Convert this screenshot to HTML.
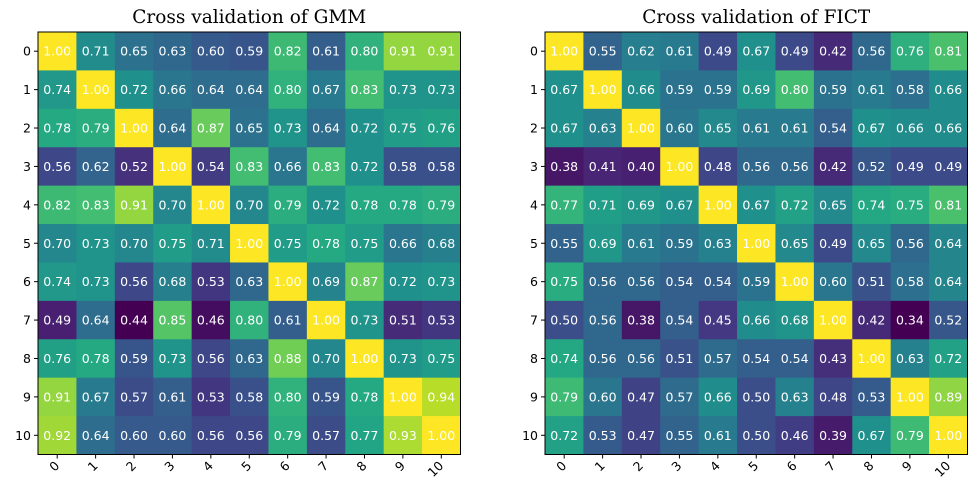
<!DOCTYPE html>
<html><head><meta charset="utf-8"><style>
body{margin:0;background:#fff;}
svg text{font-family:"DejaVu Sans","Liberation Sans",sans-serif;}
svg text.title{font-family:"DejaVu Serif","Liberation Serif",serif;}
</style></head><body>
<svg id="chart" width="977" height="497" viewBox="0 0 977 497" xmlns="http://www.w3.org/2000/svg"></svg>
<script>
const labels = ["0","1","2","3","4","5","6","7","8","9","10"];
const gmmValues = [
[1.00,0.71,0.65,0.63,0.60,0.59,0.82,0.61,0.80,0.91,0.91],
[0.74,1.00,0.72,0.66,0.64,0.64,0.80,0.67,0.83,0.73,0.73],
[0.78,0.79,1.00,0.64,0.87,0.65,0.73,0.64,0.72,0.75,0.76],
[0.56,0.62,0.52,1.00,0.54,0.83,0.66,0.83,0.72,0.58,0.58],
[0.82,0.83,0.91,0.70,1.00,0.70,0.79,0.72,0.78,0.78,0.79],
[0.70,0.73,0.70,0.75,0.71,1.00,0.75,0.78,0.75,0.66,0.68],
[0.74,0.73,0.56,0.68,0.53,0.63,1.00,0.69,0.87,0.72,0.73],
[0.49,0.64,0.44,0.85,0.46,0.80,0.61,1.00,0.73,0.51,0.53],
[0.76,0.78,0.59,0.73,0.56,0.63,0.88,0.70,1.00,0.73,0.75],
[0.91,0.67,0.57,0.61,0.53,0.58,0.80,0.59,0.78,1.00,0.94],
[0.92,0.64,0.60,0.60,0.56,0.56,0.79,0.57,0.77,0.93,1.00]];
const fictValues = [
[1.00,0.55,0.62,0.61,0.49,0.67,0.49,0.42,0.56,0.76,0.81],
[0.67,1.00,0.66,0.59,0.59,0.69,0.80,0.59,0.61,0.58,0.66],
[0.67,0.63,1.00,0.60,0.65,0.61,0.61,0.54,0.67,0.66,0.66],
[0.38,0.41,0.40,1.00,0.48,0.56,0.56,0.42,0.52,0.49,0.49],
[0.77,0.71,0.69,0.67,1.00,0.67,0.72,0.65,0.74,0.75,0.81],
[0.55,0.69,0.61,0.59,0.63,1.00,0.65,0.49,0.65,0.56,0.64],
[0.75,0.56,0.56,0.54,0.54,0.59,1.00,0.60,0.51,0.58,0.64],
[0.50,0.56,0.38,0.54,0.45,0.66,0.68,1.00,0.42,0.34,0.52],
[0.74,0.56,0.56,0.51,0.57,0.54,0.54,0.43,1.00,0.63,0.72],
[0.79,0.60,0.47,0.57,0.66,0.50,0.63,0.48,0.53,1.00,0.89],
[0.72,0.53,0.47,0.55,0.61,0.50,0.46,0.39,0.67,0.79,1.00]];
const titles = ["Cross validation of GMM","Cross validation of FICT"];

const vir=[[68,1,84],[72,35,116],[64,67,135],[52,94,141],[41,120,142],[32,144,140],[34,167,132],[68,190,112],[121,209,81],[189,222,38],[253,231,37]];
function viridis(t){t=Math.max(0,Math.min(1,t));const p=t*10,i=Math.min(9,Math.floor(p)),f=p-i;
const a=vir[i],b=vir[i+1];return `rgb(${a.map((v,k)=>Math.round(v+(b[k]-v)*f)).join(',')})`;}
const NS="http://www.w3.org/2000/svg";
const svg=document.getElementById('chart');
function mk(tag,attrs,parent){const e=document.createElementNS(NS,tag);for(const k in attrs)e.setAttribute(k,attrs[k]);parent.appendChild(e);return e;}
const panels=[{x0:38,y0:32,data:gmmValues},{x0:545,y0:32,data:fictValues}];
const size=422.5, n=labels.length, cs=size/n;
panels.forEach((p,pi)=>{
  const g=mk('g',{},svg);
  
  
  const flat=p.data.flat(),mn=Math.min(...flat),mx=Math.max(...flat);
  const xs=j=>p.x0+j*cs, ys=i=>p.y0+i*cs;
  p.data.forEach((row,i)=>row.forEach((v,j)=>{
    const r=mk('rect',{x:xs(j),y:ys(i),width:cs+0.5,height:cs+0.5,fill:viridis((v-mn)/(mx-mn))},g);
    
    
    const t=mk('text',{x:xs(j)+cs/2,y:ys(i)+cs/2+4.5,'text-anchor':'middle','font-size':'12.5',fill:'#fff'},g);
    t.textContent=v.toFixed(2);
    
    
  }));
  mk('rect',{x:p.x0,y:p.y0,width:size,height:size,fill:'none',stroke:'#000','stroke-width':1},g);
  labels.forEach((l,k)=>{
    const y=ys(k)+cs/2;
    mk('line',{x1:p.x0-4,x2:p.x0,y1:y,y2:y,stroke:'#000'},g);
    const t=mk('text',{x:p.x0-7,y:y+4.5,'text-anchor':'end','font-size':'12.5',fill:'#000'},g);
    t.textContent=l;
    
    
    const x=xs(k)+cs/2, by=p.y0+size;
    mk('line',{x1:x,x2:x,y1:by,y2:by+4,stroke:'#000'},g);
    const tx=mk('text',{x:x+3,y:by+12,'text-anchor':'end','font-size':'12.5',fill:'#000',transform:`rotate(-45 ${x+3} ${by+12})`},g);
    tx.textContent=l;
    
    
  });
  const tt=mk('text',{x:p.x0+size/2,y:23,'text-anchor':'middle','font-size':'18.5',fill:'#000','class':'title',style:'font-family:"DejaVu Serif","Liberation Serif",serif'},g);
  tt.textContent=titles[pi];
  
  
});
</script>
</body></html>
